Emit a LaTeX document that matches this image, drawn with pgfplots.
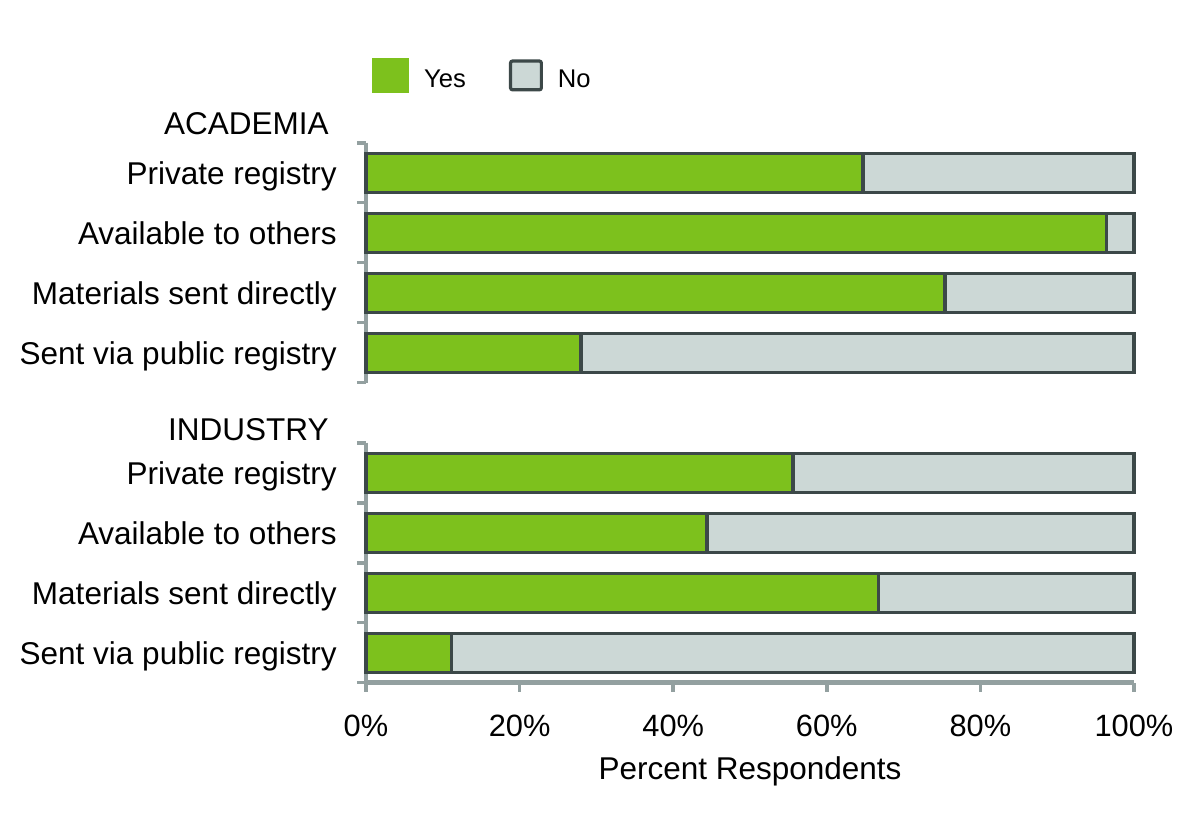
\documentclass[border=0pt]{standalone}
\usepackage{pgfplots}
\pgfplotsset{compat=1.18}
\usepackage{pgfplotstable}
\usepackage{fontspec}
\setmainfont{Liberation Sans}
\definecolor{yesgreen}{HTML}{7DC11D}
\definecolor{nogray}{HTML}{CCD8D6}
\definecolor{edge}{HTML}{3C4848}
\definecolor{axgray}{HTML}{93A0A0}
\newcommand\myfont{\fontsize{15.75}{18}\selectfont}
\newcommand\tickfont{\fontsize{15.4}{18}\selectfont}
\newcommand\legfont{\fontsize{12.8}{15}\selectfont}

\pgfplotstableread{
cat yes no
1 64.7 35.3
2 96.4 3.6
3 75.4 24.6
4 28.0 72.0
}\academia
\pgfplotstableread{
cat yes no
1 55.6 44.4
2 44.4 55.6
3 66.7 33.3
4 11.1 88.9
}\industry

\pgfplotsset{
 mybars/.style={
   scale only axis, width=384pt, height=120pt,
   xmin=0, xmax=100, ymin=0.5, ymax=4.5, y dir=reverse,
   xbar stacked, bar width=19.5pt,
   clip=false,
   ytick={1,2,3,4},
   yticklabels={Private registry, Available to others, Materials sent directly, Sent via public registry},
   minor ytick={0.5,1.5,2.5,3.5,4.5},
   minor tick length=4.5pt, major tick length=4.5pt, tick align=outside,
   yticklabel style={anchor=base east, inner sep=0pt, xshift=-10pt, yshift=-6.1pt, font=\myfont},
   every axis plot/.append style={draw=edge, line width=1.6pt},
 },
 mylines/.style={
   axis line style={-, draw=axgray, line width=2.2pt},
   every outer x axis line/.append style={line width=2.2pt},
   every outer y axis line/.append style={line width=2.2pt},
   tick style={draw=axgray, line width=1.8pt},
   minor tick style={draw=axgray, line width=1.8pt},
   major y tick style={draw=none},
   major x tick style={draw=axgray, line width=1.8pt},
 }
}

\begin{document}
\begin{tikzpicture}
\path[use as bounding box] (0,0) rectangle (600pt,-409pt);

\begin{axis}[mybars, name=upper,
  at={(183pt,-71.35pt)}, anchor=north west,
  axis y line*=left, axis x line=none,
  mylines,
  legend columns=2,
  legend style={at={(axis description cs:0.0078,1.207)}, anchor=south west,
    draw=none, fill=none, inner sep=0pt, outer sep=0pt, font=\legfont,
    nodes={inner sep=0pt},
    column sep=7.5pt,
    /tikz/every even column/.append style={column sep=21.5pt}},
]
\addplot[fill=yesgreen, legend image code/.code={\fill[yesgreen] (0pt,-5.5pt) rectangle (17pt,10.5pt);}]
  table[x=yes, y=cat]{\academia};
\addplot[fill=nogray, legend image code/.code={\draw[edge, fill=nogray, line width=1.6pt, rounded corners=1pt] (0.8pt,-4.7pt) rectangle (16.2pt,9.7pt);}]
  table[x=no, y=cat]{\academia};
\legend{Yes,No}
\end{axis}

\begin{axis}[mybars, name=lower,
  at={(183pt,-221.35pt)}, anchor=north west,
  axis y line*=left, axis x line*=bottom,
  mylines,
  xtick={0,20,40,60,80,100},
  xticklabels={0\%,20\%,40\%,60\%,80\%,100\%},
  xticklabel style={anchor=north, inner sep=0pt, yshift=-11.5pt, font=\tickfont},
  xlabel={Percent Respondents},
  xlabel style={font=\myfont, at={(axis description cs:0.5,0)}, anchor=north, inner sep=0pt, yshift=-37pt},
]
\addplot[fill=yesgreen] table[x=yes, y=cat]{\industry};
\addplot[fill=nogray] table[x=no, y=cat]{\industry};
\end{axis}

\node[anchor=base east, inner sep=0pt, font=\myfont] at ([xshift=-18.5pt, yshift=3.85pt]upper.north west) {ACADEMIA};
\node[anchor=base east, inner sep=0pt, font=\myfont] at ([xshift=-18.5pt, yshift=1.35pt]lower.north west) {INDUSTRY};
\end{tikzpicture}
\end{document}
